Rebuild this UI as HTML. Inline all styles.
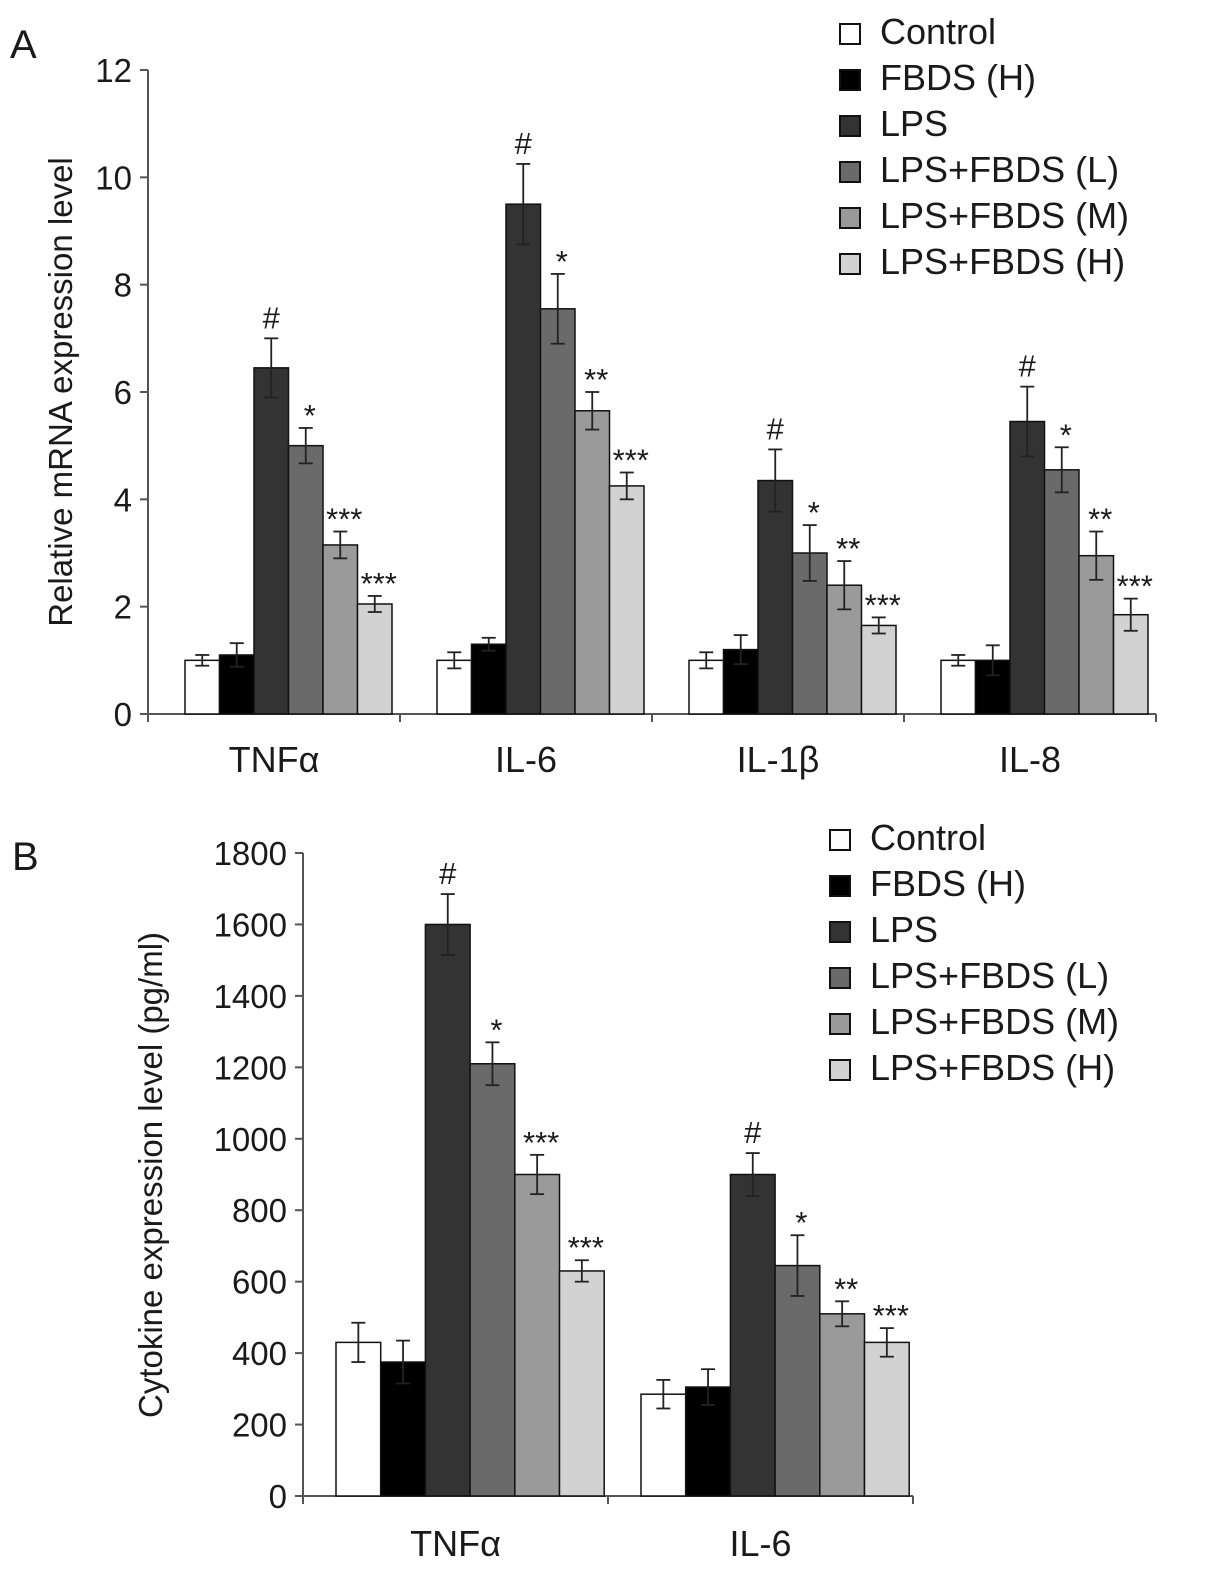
<!DOCTYPE html>
<html><head><meta charset="utf-8"><style>
body{margin:0;background:#fff}
svg{display:block;font-family:"Liberation Sans",sans-serif}
</style></head><body>
<svg id="chart" width="1205" height="1585"></svg>
<script>
const seriesNames=["Control","FBDS (H)","LPS","LPS+FBDS (L)","LPS+FBDS (M)","LPS+FBDS (H)"];
const colors=["#ffffff","#000000","#333333","#6a6a6a","#9a9a9a","#d2d2d2"];
const catsA=["TNFα","IL-6","IL-1β","IL-8"];
const valsA=[[1.0,1.1,6.45,5.0,3.15,2.05],[1.0,1.3,9.5,7.55,5.65,4.25],[1.0,1.2,4.35,3.0,2.4,1.65],[1.0,1.0,5.45,4.55,2.95,1.85]];
const errsA=[[0.1,0.22,0.55,0.33,0.25,0.15],[0.15,0.12,0.75,0.65,0.35,0.25],[0.15,0.27,0.58,0.52,0.45,0.15],[0.1,0.28,0.65,0.42,0.45,0.3]];
const marksA=[["","","#","*","***","***"],["","","#","*","**","***"],["","","#","*","**","***"],["","","#","*","**","***"]];
const ticksA=[0,2,4,6,8,10,12];
const catsB=["TNFα","IL-6"];
const valsB=[[430,375,1600,1210,900,630],[285,305,900,645,510,430]];
const errsB=[[55,60,85,60,55,30],[40,50,60,85,35,40]];
const marksB=[["","","#","*","***","***"],["","","#","*","**","***"]];
const ticksB=[0,200,400,600,800,1000,1200,1400,1600,1800];
const NS="http://www.w3.org/2000/svg";
const svg=document.getElementById('chart');
function el(t,a,txt){const e=document.createElementNS(NS,t);for(const k in a)e.setAttribute(k,a[k]);if(txt!=null)e.textContent=txt;svg.appendChild(e);return e;}
function panel(cfg){
 const y=v=>cfg.y0-(v-cfg.min)/(cfg.max-cfg.min)*(cfg.y0-cfg.y1);
 let e=el('line',{x1:cfg.ax,y1:cfg.y1,x2:cfg.ax,y2:cfg.y0,stroke:'#555','stroke-width':2});
 
 e=el('line',{x1:cfg.ax,y1:cfg.y0,x2:cfg.ax+cfg.gw*cfg.cats.length,y2:cfg.y0,stroke:'#555','stroke-width':2});
 
 cfg.ticks.forEach(t=>{
  el('line',{x1:cfg.ax-8,y1:y(t),x2:cfg.ax,y2:y(t),stroke:'#555','stroke-width':2});
  e=el('text',{x:cfg.ax-16,y:y(t)+12,'text-anchor':'end','font-size':33,fill:'#1a1a1a'},t);
  
 });
 for(let g=0;g<=cfg.cats.length;g++)el('line',{x1:cfg.ax+g*cfg.gw,y1:cfg.y0,x2:cfg.ax+g*cfg.gw,y2:cfg.y0+8,stroke:'#555','stroke-width':2});
 cfg.cats.forEach((c,g)=>{
  const gx=cfg.ax+g*cfg.gw;
  e=el('text',{x:gx+cfg.gw/2,y:cfg.y0+cfg.lab,'text-anchor':'middle','font-size':36,fill:'#1a1a1a'},c);
  
  cfg.vals[g].forEach((v,i)=>{
   const x=gx+cfg.off+i*cfg.bw;
   e=el('rect',{x:x,y:y(v),width:cfg.bw,height:cfg.y0-y(v),fill:colors[i],stroke:'#111','stroke-width':1.5});
   
   const cx=x+cfg.bw/2,er=cfg.errs[g][i];
   el('line',{x1:cx,y1:y(v-er),x2:cx,y2:y(v+er),stroke:'#222','stroke-width':1.8});
   el('line',{x1:cx-7,y1:y(v+er),x2:cx+7,y2:y(v+er),stroke:'#222','stroke-width':1.8});
   el('line',{x1:cx-7,y1:y(v-er),x2:cx+7,y2:y(v-er),stroke:'#222','stroke-width':1.8});
   const m=cfg.marks[g][i];
   if(m){const star=m!='#';
    e=el('text',{x:cx+(star?4:0),y:y(v+er)-(star?2:10),'text-anchor':'middle','font-size':31,fill:'#1a1a1a'},m);
    }
  });
 });
 e=el('text',{x:0,y:0,'text-anchor':'middle','font-size':33,fill:'#1a1a1a',transform:`translate(${cfg.tx},${cfg.ty}) rotate(-90)`},cfg.title);
 
 seriesNames.forEach((n,i)=>{
  const ly=cfg.ly+i*cfg.ls;
  e=el('rect',{x:cfg.lx,y:ly-20,width:20,height:20,fill:colors[i],stroke:'#111','stroke-width':2});
  
  e=el('text',{x:cfg.lx+40,y:ly,'font-size':36,fill:'#1a1a1a'},n);
  
 });
 e=el('text',{x:cfg.px,y:cfg.py,'font-size':40,fill:'#1a1a1a'},cfg.p=='a'?'A':'B');
 
}
panel({p:'a',cats:catsA,vals:valsA,errs:errsA,marks:marksA,ticks:ticksA,min:0,max:12,y0:714,y1:70,ax:148,gw:252,off:37,bw:34.5,lab:58,
 title:'Relative mRNA expression level',tx:72,ty:392,lx:840,ly:44,ls:46,px:10,py:58});
panel({p:'b',cats:catsB,vals:valsB,errs:errsB,marks:marksB,ticks:ticksB,min:0,max:1800,y0:1496,y1:853,ax:303,gw:305,off:33,bw:44.7,lab:60,
 title:'Cytokine expression level (pg/ml)',tx:162,ty:1175,lx:830,ly:850,ls:46,px:12,py:870});
</script>
</body></html>
